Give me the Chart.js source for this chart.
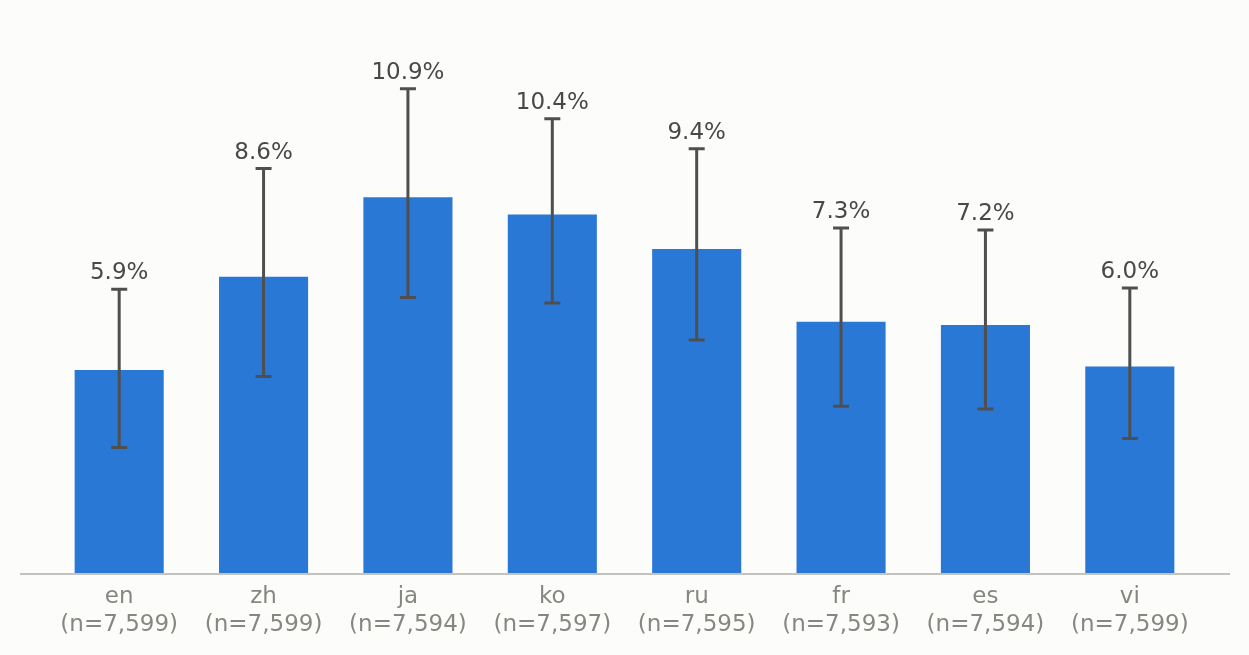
<!DOCTYPE html>
<html>
<head>
<meta charset="utf-8">
<script src="https://cdn.jsdelivr.net/npm/chart.js@4"></script>
<style>
  html, body { margin: 0; padding: 0; background: #fcfcfa; }
  #wrap { width: 1249px; height: 655px; }
</style>
</head>
<body>
<div id="wrap"><canvas id="barChart"></canvas></div>
<script>
/*global Chart*/

// languages and sample sizes
var languages = ["en", "zh", "ja", "ko", "ru", "fr", "es", "vi"];
var sampleSizes = ["7,599", "7,599", "7,594", "7,597", "7,595", "7,593", "7,594", "7,599"];

// rate in percent, with lower / upper interval ends
var rates = [5.9, 8.6, 10.9, 10.4, 9.4, 7.3, 7.2, 6.0];
var lowerCI = [3.66, 5.71, 8.0, 7.84, 6.77, 4.85, 4.77, 3.92];
var upperCI = [8.24, 11.73, 14.04, 13.17, 12.30, 10.01, 9.95, 8.27];

var labels = languages.map(function (l, i) {
    return [l, "(n=" + sampleSizes[i] + ")"];
});

//----------------------------------------------------------------
/* error bars, value labels and baseline */
//----------------------------------------------------------------
var errorBarPlugin = {
    id: "errorBars",
    afterDatasetsDraw: function (chart) {
        var ctx = chart.ctx;
        var y = chart.scales.y;
        var meta = chart.getDatasetMeta(0);

        // baseline across the whole figure
        var y0 = y.getPixelForValue(0);
        ctx.save();
        ctx.strokeStyle = "#c4c2bc";
        ctx.lineWidth = 2;
        ctx.beginPath();
        ctx.moveTo(20, y0);
        ctx.lineTo(1230, y0);
        ctx.stroke();

        ctx.strokeStyle = "#4f4f4f";
        ctx.lineWidth = 3;
        ctx.fillStyle = "#484848";
        ctx.font = "23px 'DejaVu Sans'";
        ctx.textAlign = "center";
        ctx.textBaseline = "alphabetic";
        meta.data.forEach(function (bar, i) {
            var x = bar.x;
            var top = y.getPixelForValue(upperCI[i]);
            var bot = y.getPixelForValue(lowerCI[i]);
            ctx.beginPath();
            ctx.moveTo(x, top);
            ctx.lineTo(x, bot);
            ctx.moveTo(x - 8, top);
            ctx.lineTo(x + 8, top);
            ctx.moveTo(x - 8, bot);
            ctx.lineTo(x + 8, bot);
            ctx.stroke();
            ctx.fillText(rates[i].toFixed(1) + "%", x, top - 10);
        });
        ctx.restore();
    }
};

var barData = {
    labels: labels,
    datasets: [{
        data: rates,
        backgroundColor: "#2a78d6",
        borderWidth: 0,
        barPercentage: 0.617,
        categoryPercentage: 1.0
    }]
};

var barOptions = {
    responsive: true,
    maintainAspectRatio: false,
    animation: false,
    layout: { padding: { left: 47, right: 47, top: 21, bottom: 7 } },
    plugins: {
        legend: { display: false },
        tooltip: { enabled: false }
    },
    scales: {
        x: {
            grid: { display: false, drawTicks: false },
            border: { display: false },
            ticks: {
                color: "#878782",
                padding: 9,
                maxRotation: 0,
                autoSkip: false,
                font: { family: "'DejaVu Sans'", size: 23, lineHeight: 1.22 }
            }
        },
        y: {
            display: false,
            min: 0,
            max: 16
        }
    }
};

var ctx = document.getElementById("barChart").getContext("2d");
new Chart(ctx, { type: "bar", data: barData, options: barOptions, plugins: [errorBarPlugin] });
</script>
</body>
</html>
